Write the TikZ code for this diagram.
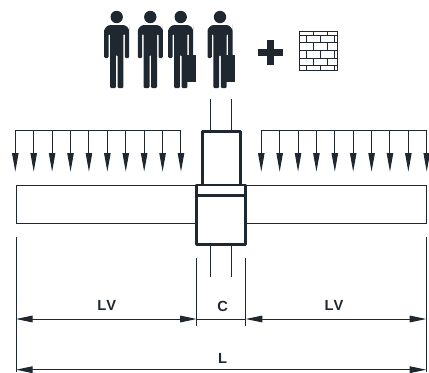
\documentclass[tikz,border=0pt]{standalone}
\usepackage{fontspec}
\setmainfont{Liberation Sans}
\usetikzlibrary{arrows.meta}
\definecolor{inkdark}{RGB}{31,40,48}
\tikzset{every picture/.style={line width=0.75pt}}
\tikzset{
	thinline/.style={draw=inkdark,line width=0.75pt},
	thickline/.style={draw=inkdark,line width=2pt,line join=round},
	loadarrow/.style={thinline,-{Triangle[length=14pt,width=4.8pt]}},
	dimarrow/.style={thinline,{Triangle[length=12.5pt,width=5pt]}-{Triangle[length=12.5pt,width=5pt]}},
	dimlabel/.style={font=\bfseries\fontsize{11}{13}\selectfont\addfontfeatures{LetterSpace=8},text=inkdark,inner sep=0pt}
}
\newcommand{\figurebody}[1]{
	\begin{scope}[shift={(#1,0)}]
		\fill [inkdark] (0,17) circle (6.2);
		\fill [inkdark,rounded corners=0.8] (-12.5,58) -- (-12.5,31) [rounded corners=5] -- (-12.5,25) -- (12.5,25) -- (12.5,31) [rounded corners=0.8] -- (12.5,58) -- (8.2,58) -- (8.2,34) -- (6.7,34) -- (6.7,88) -- (0.8,88) -- (0.8,55) -- (-0.8,55) -- (-0.8,88) -- (-6.7,88) -- (-6.7,34) -- (-8.2,34) -- (-8.2,58) -- (-12.5,58) -- cycle ;
	\end{scope}
}
\newcommand{\figurecase}[1]{
	\figurebody{#1}
	\begin{scope}[shift={(#1,0)}]
		\fill [inkdark] (1.6,55) rectangle (15,82);
	\end{scope}
}

\begin{document}
\begin{tikzpicture}[x=0.75pt,y=0.75pt,yscale=-1,xscale=1]
	\useasboundingbox (0,0) rectangle (429,372);

	%Figures
	\figurebody{116.7}
	\figurebody{150.3}
	\figurecase{180.7}
	\figurecase{220}

	%Shape: Plus
	\fill [inkdark] (266.8,40) rectangle (273.8,65);
	\fill [inkdark] (258,49) rectangle (283,56);

	%Shape: Wall
	\draw [thinline] (299,31) rectangle (337,70);
	\foreach \y in {35,42.7,50.7,58,65.7} \draw [thinline] (299,\y) -- (337,\y);
	\foreach \a/\b in {31/35,42.7/50.7,58/65.7} \foreach \x in {313.3,327.3} \draw [thinline] (\x,\a) -- (\x,\b);
	\foreach \a/\b in {35/42.7,50.7/58,65.7/70} \foreach \x in {306.7,320.7,334.3} \draw [thinline] (\x,\a) -- (\x,\b);

	%Load arrows
	\draw [thinline] (15.3,130) -- (181,130);
	\draw [thinline] (261.3,130) -- (426.7,130);
	\foreach \i in {0,...,9} {
		\draw [loadarrow] ({15.3+18.41*\i},130) -- ({15.3+18.41*\i},171.7);
		\draw [loadarrow] ({261.3+18.38*\i},130) -- ({261.3+18.38*\i},171.7);
	}

	%Shape: Beam
	\draw [thinline] (196.7,185.3) -- (16,185.3) -- (16,223.7) -- (196.7,223.7);
	\draw [thinline] (245.7,185.3) -- (426,185.3) -- (426,223.7) -- (245.7,223.7);

	%Axis lines
	\draw [thinline] (210.3,99.3) -- (210.3,131.7);
	\draw [thinline] (231.7,99.3) -- (231.7,131.7);
	\draw [thinline] (210.3,244.7) -- (210.3,276.7);
	\draw [thinline] (231.7,244.7) -- (231.7,276.7);

	%Shape: Column
	\draw [thickline] (202.3,185) -- (202.3,131.7) -- (240.3,131.7) -- (240.3,185);
	\draw [thickline] (196.7,185) rectangle (245.7,244.7);
	\draw [thickline] (196.7,195.7) -- (245.7,195.7);

	%Extension lines
	\draw [thinline] (16,237) -- (16,372);
	\draw [thinline] (196.7,258.3) -- (196.7,325.7);
	\draw [thinline] (245.7,258.3) -- (245.7,325.7);
	\draw [thinline] (426.3,237) -- (426.3,372);

	%Dimensions
	\coordinate (dimA) at (16,319);
	\coordinate (dimB) at (196.7,319);
	\coordinate (dimC) at (245.7,319);
	\coordinate (dimD) at (426.3,319);
	\coordinate (dimE) at (16,369.7);
	\coordinate (dimF) at (426.3,369.7);
	\draw [dimarrow] (dimA) -- (dimB);
	\draw [thinline] (dimB) -- (dimC);
	\draw [dimarrow] (dimC) -- (dimD);
	\draw [dimarrow] (dimE) -- (dimF);

	% Text Node
	\node [dimlabel] (labelLVa) at (106.7,305.3) {LV};
	\node [dimlabel] (labelC) at (222.7,306.7) {C};
	\node [dimlabel] (labelLVb) at (334,305.3) {LV};
	\node [dimlabel] (labelL) at (222.7,358.3) {L};
\end{tikzpicture}
\end{document}
